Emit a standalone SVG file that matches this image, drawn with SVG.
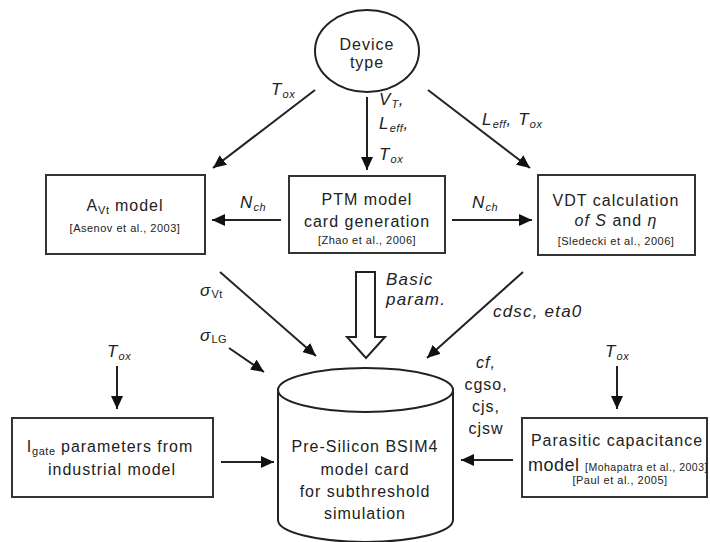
<svg xmlns="http://www.w3.org/2000/svg" width="710" height="542" viewBox="0 0 710 542">
<style>
text{font-family:"Liberation Sans",Arial,sans-serif;fill:#222}
.m{font-size:16px;letter-spacing:1px;text-anchor:middle}
.c{font-size:11px;letter-spacing:0.5px;text-anchor:middle}
.l{font-size:17px;letter-spacing:1.2px;font-style:italic}
.s{font-size:11px;letter-spacing:0.5px}
.box{fill:#fff;stroke:#333;stroke-width:2}
.a{stroke:#222;stroke-width:2;fill:none;marker-end:url(#ah)}
</style>
<defs>
<marker id="ah" markerUnits="userSpaceOnUse" markerWidth="14" markerHeight="12" refX="13" refY="6" orient="auto">
<path d="M0,0 L13,6 L0,12 z" fill="#111"/>
</marker>
</defs>
<g id="connectors">
<line class="a" x1="367" y1="97" x2="367" y2="170"/>
<line class="a" x1="315" y1="90" x2="213" y2="168"/>
<line class="a" x1="428" y1="90" x2="530" y2="168"/>
<line class="a" x1="281" y1="220" x2="212" y2="220" stroke-width="3"/>
<line class="a" x1="452" y1="220" x2="532" y2="220" stroke-width="3"/>
<line class="a" x1="220" y1="272" x2="316" y2="356"/>
<line class="a" x1="229" y1="348" x2="264" y2="372"/>
<line class="a" x1="523" y1="272" x2="427" y2="358"/>
<line class="a" x1="117" y1="366" x2="117" y2="409"/>
<line class="a" x1="617" y1="366" x2="617" y2="409"/>
<line class="a" x1="221" y1="462" x2="274" y2="462"/>
<line class="a" x1="513" y1="460" x2="461" y2="460" stroke-width="3"/>
<polygon points="356,272 375,272 375,337 385,337 366,358 347,337 356,337" fill="#fff" stroke="#222" stroke-width="2"/>
<text class="l" x="271" y="95">T<tspan class="s" dy="3">ox</tspan></text>
<text class="l" x="379" y="105">V<tspan class="s" dy="3">T</tspan><tspan dy="-3">,</tspan></text>
<text class="l" x="379" y="129">L<tspan class="s" dy="3">eff</tspan><tspan dy="-3">,</tspan></text>
<text class="l" x="379" y="160">T<tspan class="s" dy="3">ox</tspan></text>
<text class="l" x="482" y="125">L<tspan class="s" dy="3">eff</tspan><tspan dy="-3">, T</tspan><tspan class="s" dy="3">ox</tspan></text>
<text class="l" x="240" y="208">N<tspan class="s" dy="3">ch</tspan></text>
<text class="l" x="472" y="208">N<tspan class="s" dy="3">ch</tspan></text>
<text class="l" x="200" y="296">σ<tspan class="s" dy="2" font-style="normal">Vt</tspan></text>
<text class="l" x="200" y="341">σ<tspan class="s" dy="2" font-style="normal">LG</tspan></text>
<text class="l" x="386" y="285">Basic</text>
<text class="l" x="386" y="305">param.</text>
<text class="l" x="493" y="317">cdsc, eta0</text>
<text class="l" x="107" y="357">T<tspan class="s" dy="3">ox</tspan></text>
<text class="l" x="605" y="357">T<tspan class="s" dy="3">ox</tspan></text>
<text class="m" x="486" y="368" font-style="italic">cf,</text>
<text class="m" x="486" y="390">cgso,</text>
<text class="m" x="486" y="412">cjs,</text>
<text class="m" x="486" y="434">cjsw</text>
</g>
<g id="device">
<ellipse cx="367" cy="51" rx="52" ry="41" fill="#fff" stroke="#222" stroke-width="2"/>
<text class="m" x="367" y="50">Device</text>
<text class="m" x="367" y="68">type</text>
</g>
<g id="avt">
<rect class="box" x="46" y="175" width="159" height="79"/>
<text class="m" x="125" y="211">A<tspan class="s" dy="3">Vt</tspan><tspan dy="-3"> model</tspan></text>
<text class="c" x="125" y="232" font-size="12px" letter-spacing="0.6px">[Asenov et al., 2003]</text>
</g>
<g id="ptm">
<rect class="box" x="289" y="176" width="156" height="77"/>
<text class="m" x="367" y="205">PTM model</text>
<text class="m" x="367" y="227">card generation</text>
<text class="c" x="367" y="244">[Zhao et al., 2006]</text>
</g>
<g id="vdt">
<rect class="box" x="538" y="175" width="157" height="80"/>
<text class="m" x="616" y="206">VDT calculation</text>
<text class="m" x="616" y="226"><tspan font-style="italic">of S</tspan> and <tspan font-style="italic">η</tspan></text>
<text class="c" x="616" y="245">[Sledecki et al., 2006]</text>
</g>
<g id="bsim">
<path d="M278,390 L278,520 A87.5,22 0 0 0 453,520 L453,390" fill="#fff" stroke="#222" stroke-width="2"/>
<ellipse cx="365.5" cy="390" rx="87.5" ry="22" fill="#fff" stroke="#222" stroke-width="2"/>
<text class="m" x="365" y="452" letter-spacing="0.6px">Pre-Silicon BSIM4</text>
<text class="m" x="365" y="475" letter-spacing="0.6px">model card</text>
<text class="m" x="365" y="497" letter-spacing="0.6px">for subthreshold</text>
<text class="m" x="365" y="519" letter-spacing="0.6px">simulation</text>
</g>
<g id="igate">
<rect class="box" x="12" y="418" width="201" height="79"/>
<text class="m" x="110" y="452" letter-spacing="0.4px">I<tspan class="s" dy="3">gate</tspan><tspan dy="-3"> parameters from</tspan></text>
<text class="m" x="112" y="475" letter-spacing="0.4px">industrial model</text>
</g>
<g id="parasitic">
<rect class="box" x="522" y="418" width="185" height="79"/>
<text class="m" x="617" y="446">Parasitic capacitance</text>
<text x="528" y="471" font-size="18px" letter-spacing="0.5px">model <tspan font-size="10.5px">[Mohapatra et al., 2003]</tspan></text>
<text class="c" x="620" y="484">[Paul et al., 2005]</text>
</g>
</svg>
